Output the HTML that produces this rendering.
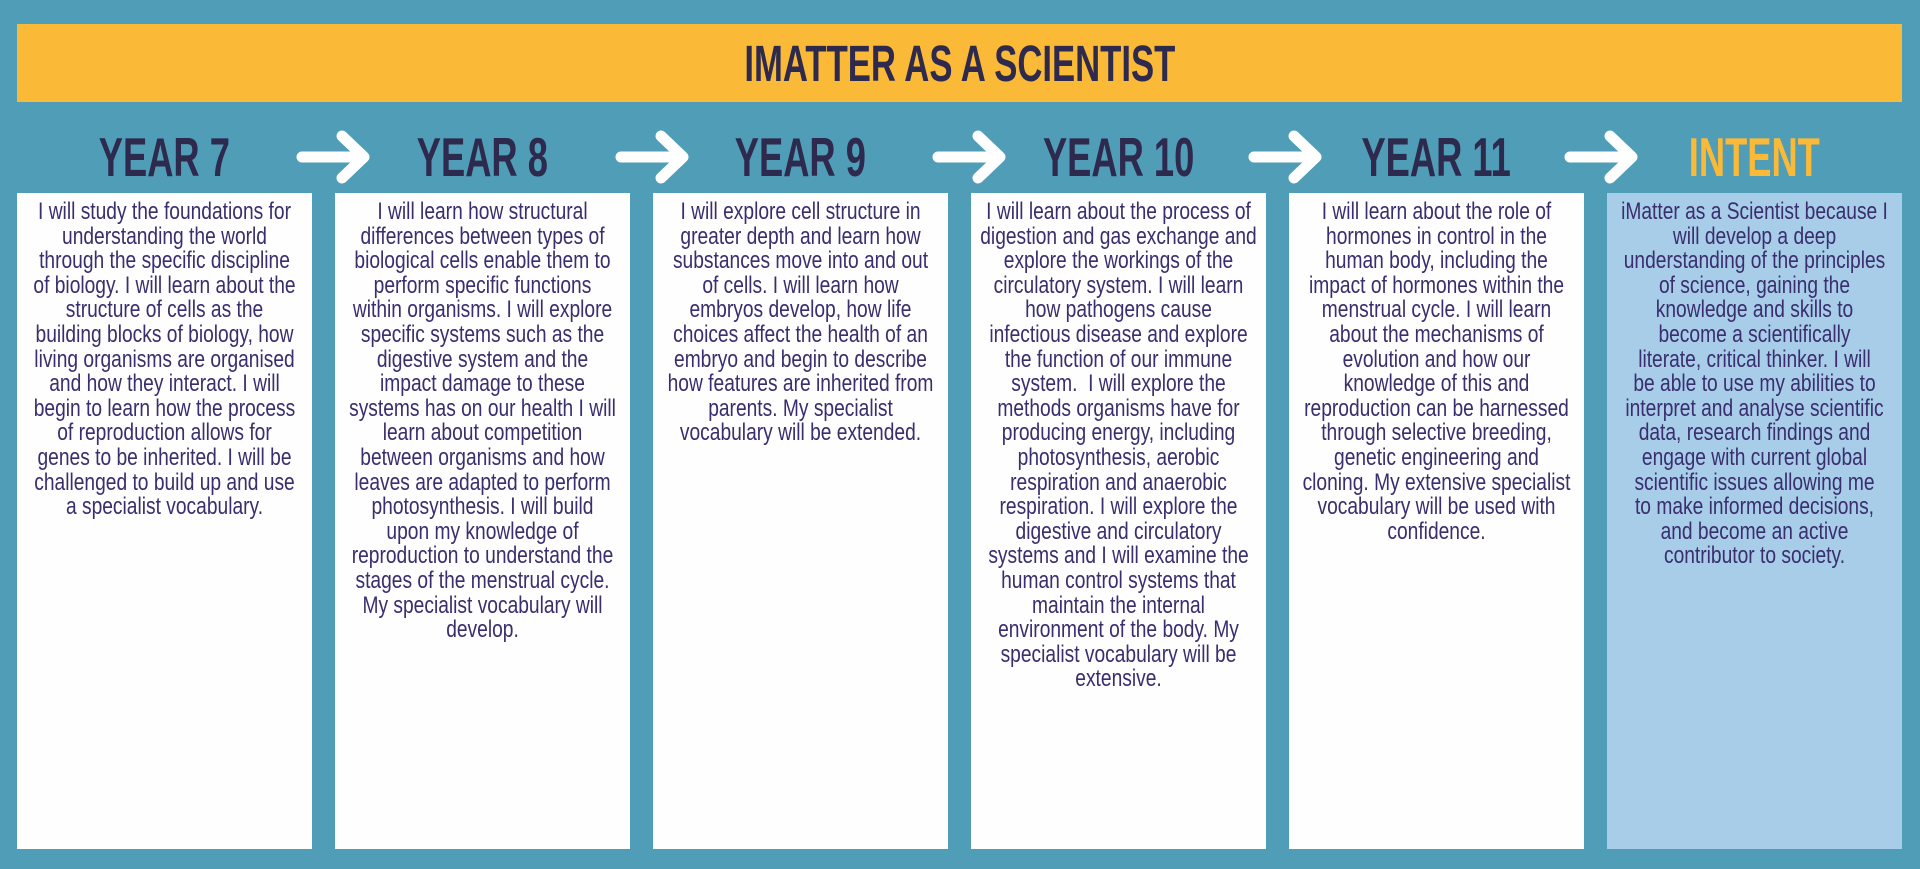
<!DOCTYPE html>
<html><head><meta charset="utf-8"><style>
html,body{margin:0;padding:0}
body{width:1920px;height:869px;background:#509db8;position:relative;overflow:hidden;font-family:"Liberation Sans Narrow","Liberation Sans",sans-serif}
.band{position:absolute;left:17px;top:24px;width:1885px;height:78px;background:#fbb938}
.title{position:absolute;left:0;top:24px;width:1920px;height:78px;line-height:80px;text-align:center;color:#2e2a4e;font-weight:bold;font-size:51px}
.title span{display:inline-block;transform:scaleX(0.68)}
.hd span{display:inline-block;transform:scaleX(0.66)}
.hd{position:absolute;top:126px;width:295px;text-align:center;color:#2e2a4e;font-weight:bold;font-size:55px;line-height:62px}
.box{position:absolute;top:193px;width:295px;height:656px;background:#fefefe}
.box.i{background:#a7cde9}
.tx{position:absolute;top:200px;width:369px;margin-left:-37px;transform:scaleX(0.8);transform-origin:center top;text-align:center;color:#3a2e6e;font-size:24px;line-height:24.6px;white-space:nowrap}
.arr{position:absolute;top:130px}
</style></head><body>
<div class="band"></div>
<div class="title"><span>IMATTER AS A SCIENTIST</span></div>

<div class="hd" style="left:17px"><span>YEAR 7</span></div>
<div class="hd" style="left:335px"><span>YEAR 8</span></div>
<div class="hd" style="left:653px"><span>YEAR 9</span></div>
<div class="hd" style="left:971px"><span>YEAR 10</span></div>
<div class="hd" style="left:1289px"><span>YEAR 11</span></div>
<div class="hd" style="left:1607px;color:#fbb938"><span>INTENT</span></div>

<svg class="arr" style="left:296px" width="76" height="54" viewBox="0 0 76 54"><path d="M6 27H68M46 6L68 27L46 48" fill="none" stroke="#fff" stroke-width="11" stroke-linecap="round" stroke-linejoin="round"/></svg>
<svg class="arr" style="left:615px" width="76" height="54" viewBox="0 0 76 54"><path d="M6 27H68M46 6L68 27L46 48" fill="none" stroke="#fff" stroke-width="11" stroke-linecap="round" stroke-linejoin="round"/></svg>
<svg class="arr" style="left:932px" width="76" height="54" viewBox="0 0 76 54"><path d="M6 27H68M46 6L68 27L46 48" fill="none" stroke="#fff" stroke-width="11" stroke-linecap="round" stroke-linejoin="round"/></svg>
<svg class="arr" style="left:1248px" width="76" height="54" viewBox="0 0 76 54"><path d="M6 27H68M46 6L68 27L46 48" fill="none" stroke="#fff" stroke-width="11" stroke-linecap="round" stroke-linejoin="round"/></svg>
<svg class="arr" style="left:1564px" width="76" height="54" viewBox="0 0 76 54"><path d="M6 27H68M46 6L68 27L46 48" fill="none" stroke="#fff" stroke-width="11" stroke-linecap="round" stroke-linejoin="round"/></svg>

<div class="box" style="left:17px"></div>
<div class="box" style="left:335px"></div>
<div class="box" style="left:653px"></div>
<div class="box" style="left:971px"></div>
<div class="box" style="left:1289px"></div>
<div class="box i" style="left:1607px"></div>

<div class="tx" style="left:17px">I will study the foundations for<br>understanding the world<br>through the specific discipline<br>of biology. I will learn about the<br>structure of cells as the<br>building blocks of biology, how<br>living organisms are organised<br>and how they interact. I will<br>begin to learn how the process<br>of reproduction allows for<br>genes to be inherited. I will be<br>challenged to build up and use<br>a specialist vocabulary.</div>

<div class="tx" style="left:335px">I will learn how structural<br>differences between types of<br>biological cells enable them to<br>perform specific functions<br>within organisms. I will explore<br>specific systems such as the<br>digestive system and the<br>impact damage to these<br>systems has on our health I will<br>learn about competition<br>between organisms and how<br>leaves are adapted to perform<br>photosynthesis. I will build<br>upon my knowledge of<br>reproduction to understand the<br>stages of the menstrual cycle.<br>My specialist vocabulary will<br>develop.</div>

<div class="tx" style="left:653px">I will explore cell structure in<br>greater depth and learn how<br>substances move into and out<br>of cells. I will learn how<br>embryos develop, how life<br>choices affect the health of an<br>embryo and begin to describe<br>how features are inherited from<br>parents. My specialist<br>vocabulary will be extended.</div>

<div class="tx" style="left:971px">I will learn about the process of<br>digestion and gas exchange and<br>explore the workings of the<br>circulatory system. I will learn<br>how pathogens cause<br>infectious disease and explore<br>the function of our immune<br>system.&nbsp; I will explore the<br>methods organisms have for<br>producing energy, including<br>photosynthesis, aerobic<br>respiration and anaerobic<br>respiration. I will explore the<br>digestive and circulatory<br>systems and I will examine the<br>human control systems that<br>maintain the internal<br>environment of the body. My<br>specialist vocabulary will be<br>extensive.</div>

<div class="tx" style="left:1289px">I will learn about the role of<br>hormones in control in the<br>human body, including the<br>impact of hormones within the<br>menstrual cycle. I will learn<br>about the mechanisms of<br>evolution and how our<br>knowledge of this and<br>reproduction can be harnessed<br>through selective breeding,<br>genetic engineering and<br>cloning. My extensive specialist<br>vocabulary will be used with<br>confidence.</div>

<div class="tx" style="left:1607px">iMatter as a Scientist because I<br>will develop a deep<br>understanding of the principles<br>of science, gaining the<br>knowledge and skills to<br>become a scientifically<br>literate, critical thinker. I will<br>be able to use my abilities to<br>interpret and analyse scientific<br>data, research findings and<br>engage with current global<br>scientific issues allowing me<br>to make informed decisions,<br>and become an active<br>contributor to society.</div>
</body></html>
